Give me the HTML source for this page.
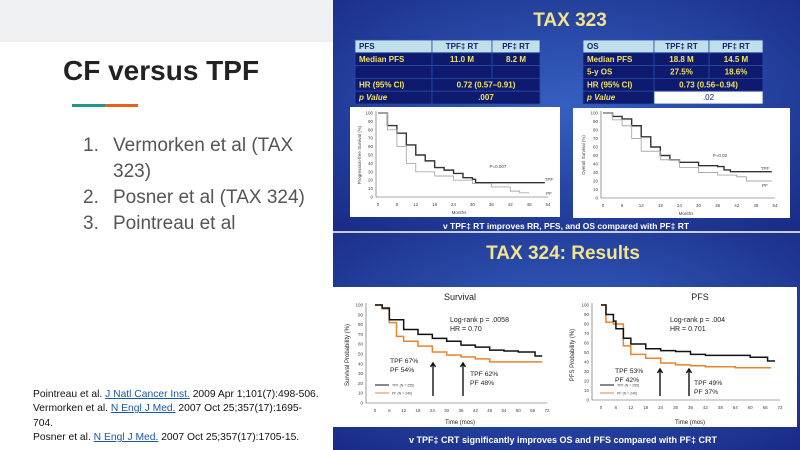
<!DOCTYPE html>
<html><head><meta charset="utf-8"><style>
body{margin:0;width:800px;height:450px;overflow:hidden;background:#fff;font-family:"Liberation Sans",sans-serif;position:relative}
.abs{position:absolute}
</style></head><body>
<div class="abs" style="left:0;top:0;width:333px;height:42px;background:#eef0f2"></div>
<div class="abs" style="left:63px;top:55px;font-size:28px;font-weight:bold;color:#222">CF versus TPF</div>
<div class="abs" style="left:72px;top:104px;width:33px;height:3px;background:#1f9a8a"></div>
<div class="abs" style="left:105px;top:104px;width:33px;height:3px;background:#e8601c"></div>
<div class="abs" style="left:83px;top:133px;font-size:19px;color:#555;line-height:26px">
<div><span style="display:inline-block;width:30px">1.</span>Vermorken et al (TAX</div>
<div style="padding-left:30px">323)</div>
<div><span style="display:inline-block;width:30px">2.</span>Posner et al (TAX 324)</div>
<div><span style="display:inline-block;width:30px">3.</span>Pointreau et al</div>
</div>
<div class="abs" style="left:33px;top:388px;font-size:10.3px;color:#111;line-height:14.3px;width:300px;white-space:nowrap">
<div>Pointreau et al. <span style="color:#1a56b0;text-decoration:underline">J Natl Cancer Inst.</span> 2009 Apr 1;101(7):498-506.</div>
<div>Vermorken et al. <span style="color:#1a56b0;text-decoration:underline">N Engl J Med.</span> 2007 Oct 25;357(17):1695-<br>704.</div>
<div>Posner et al. <span style="color:#1a56b0;text-decoration:underline">N Engl J Med.</span> 2007 Oct 25;357(17):1705-15.</div>
</div>

<svg class="abs" style="left:0;top:0" width="800" height="450">
<defs>
<radialGradient id="bg" cx="0.5" cy="0.45" r="0.75"><stop offset="0" stop-color="#3560c0"/><stop offset="1" stop-color="#182a85"/></radialGradient>
</defs>
<rect x="333" y="0" width="467" height="232" fill="url(#bg)"/>
<rect x="333" y="232" width="467" height="218" fill="url(#bg)"/>
<line x1="333" y1="232" x2="800" y2="232" stroke="#fff" stroke-width="1.5"/>
<text x="570" y="26" fill="#f3e38a" font-size="19" font-weight="bold" text-anchor="middle">TAX 323</text>
<g id="tables" font-size="8" font-weight="bold"></g>
<rect x="350" y="107" width="210" height="110" fill="#fff"/>
<rect x="573" y="108" width="217" height="110" fill="#fff"/>
<g id="c323"></g>
<text x="566" y="229" fill="#fff" font-size="8.5" font-weight="bold" text-anchor="middle">v   TPF‡   RT improves RR, PFS, and OS  compared with PF‡   RT</text>
<text x="563" y="259" fill="#f3e38a" font-size="19" font-weight="bold" text-anchor="middle">TAX 324: Results</text>
<rect x="333" y="287" width="464" height="140" fill="#fff"/>
<g id="c324"></g>
<text x="563" y="443" fill="#fff" font-size="9" font-weight="bold" text-anchor="middle">v  TPF‡  CRT significantly improves OS and PFS compared with PF‡  CRT</text>
</svg>
<script>
// TAX 323 PFS
const pfs323Months=[0,3,6,9,12,15,18,21,24,27,30,31,36,42,48,53];
const pfs323TPF=[100,85,76,62,50,43,35,32,28,23,21,17,17,17,17,17];
const pfs323PFm=[0,3,6,9,12,18,24,30,36,42,45,48];
const pfs323PF=[100,80,60,40,30,25,20,16,12,7,5,5];
// TAX 323 OS
const os323Months=[0,3,6,9,12,15,18,21,24,30,36,38,40,48,53];
const os323TPF=[100,96,93,85,72,60,50,45,42,38,37,33,31,31,31];
const os323PFm=[0,3,6,9,12,18,24,30,36,42,45,53];
const os323PF=[100,92,85,70,55,45,36,30,27,25,20,20];
// TAX 324 survival
const os324TPFm=[0,3,6,12,18,24,30,36,42,48,54,60,66,67,70];
const os324TPF=[100,97,85,75,70,66,63,59,57,54,53,52,52,48,48];
const os324PFm=[0,3,6,9,12,18,24,30,36,42,48,60,70];
const os324PF=[100,96,82,68,63,58,52,49,47,45,42,42,42];
// TAX 324 PFS
const pfs324TPFm=[0,2,5,6,9,12,18,24,30,36,42,54,60,66,67,70];
const pfs324TPF=[100,90,83,75,65,59,54,52,51,48,47,47,45,45,41,41];
const pfs324PFm=[0,2,5,9,12,18,24,30,36,42,54,68];
const pfs324PF=[100,82,80,57,48,44,39,37,36,35,34,33];
const ticks323=[0,6,12,18,24,30,36,42,48,54];
const ticks324=[0,6,12,18,24,30,36,42,48,54,60,66,72];
const yTicks=[0,10,20,30,40,50,60,70,80,90,100];

const NS='http://www.w3.org/2000/svg';
function mk(p,tag,at,txt){const e=document.createElementNS(NS,tag);for(const k in at)e.setAttribute(k,at[k]);if(txt!==undefined)e.textContent=txt;p.appendChild(e);return e;}
function chart(g,o){
  const sx=m=>o.x0+(m/o.xmax)*(o.x1-o.x0), sy=v=>o.y0-(v/100)*(o.y0-o.y1);
  const ax=mk(g,'path',{d:`M${o.ax},${o.y1-2}V${o.y0}H${o.x1}`,stroke:'#555','stroke-width':0.6,fill:'none'});
  
  
  o.xt.forEach(t=>{const e=mk(g,'text',{x:sx(t),y:o.y0+9,'font-size':4.5,fill:'#444','text-anchor':'middle'},t);
    
    });
  yTicks.forEach(t=>{const e=mk(g,'text',{x:o.ax-3,y:sy(t)+1.5,'font-size':4.5,fill:'#444','text-anchor':'end'},t);
    
    });
  o.series.forEach(s=>{let d='';s.m.forEach((m,i)=>{d+=(i?`H${sx(m)}V${sy(s.v[i])}`:`M${sx(m)},${sy(s.v[i])}`);});
    const p=mk(g,'path',{d,stroke:s.c,'stroke-width':s.w,fill:'none'});
    
    });
  return {sx,sy};
}
const c323=document.getElementById('c323');
chart(c323,{name:'pfs323',x0:378,x1:548,ax:376,xmax:54,y0:197,y1:113,xt:ticks323,series:[{n:'tpf',m:pfs323Months,v:pfs323TPF,c:'#333',w:1.4},{n:'pf',m:pfs323PFm,v:pfs323PF,c:'#aaa',w:0.9}]});
chart(c323,{name:'os323',x0:603,x1:775,ax:601,xmax:54,y0:198,y1:113,xt:ticks323,series:[{n:'tpf',m:os323Months,v:os323TPF,c:'#333',w:1.4},{n:'pf',m:os323PFm,v:os323PF,c:'#aaa',w:0.9}]});
[[459,214,'Months'],[686,215,'Months'],[498,168,'P=0.007'],[720,157,'P=0.02'],[549,181,'TPF'],[549,195,'PF'],[765,170,'TPF'],[765,187,'PF']].forEach(a=>{const e=mk(c323,'text',{x:a[0],y:a[1],'font-size':4.5,fill:'#444','text-anchor':'middle'},a[2]);
  
  });
[[361,155,'Progression-free Survival (%)'],[585,155,'Overall Survival (%)']].forEach(a=>{const e=mk(c323,'text',{x:a[0],y:a[1],'font-size':4.5,fill:'#444','text-anchor':'middle',transform:`rotate(-90 ${a[0]} ${a[1]})`},a[2]);
  
  });

const c324=document.getElementById('c324');
chart(c324,{name:'os324',x0:375,x1:547,ax:366,xmax:72,y0:403,y1:305,xt:ticks324,series:[{n:'pf',m:os324PFm,v:os324PF,c:'#e8842c',w:1.5},{n:'tpf',m:os324TPFm,v:os324TPF,c:'#111',w:1.5}]});
chart(c324,{name:'pfs324',x0:601,x1:780,ax:592,xmax:72,y0:400,y1:305,xt:ticks324,series:[{n:'pf',m:pfs324PFm,v:pfs324PF,c:'#e8842c',w:1.5},{n:'tpf',m:pfs324TPFm,v:pfs324TPF,c:'#111',w:1.5}]});
const t324=[[460,300,9,'Survival','middle'],[700,300,9,'PFS','middle'],[450,322,7,'Log-rank p = .0058','start'],[450,331,7,'HR = 0.70','start'],[670,322,7,'Log-rank p = .004','start'],[670,331,7,'HR = 0.701','start'],
[390,363,6.8,'TPF 67%','start'],[390,372,6.8,'PF 54%','start'],[470,376,6.8,'TPF 62%','start'],[470,385,6.8,'PF 48%','start'],
[615,373,6.8,'TPF 53%','start'],[615,382,6.8,'PF 42%','start'],[694,385,6.8,'TPF 49%','start'],[694,394,6.8,'PF 37%','start'],
[460,424,6,'Time (mos)','middle'],[690,424,6,'Time (mos)','middle']];
t324.forEach(a=>{const e=mk(c324,'text',{x:a[0],y:a[1],'font-size':a[2],fill:'#222','text-anchor':a[4]},a[3]);
  
  });
[[349,355,'Survival Probability (%)'],[574,355,'PFS Probability (%)']].forEach(a=>{const e=mk(c324,'text',{x:a[0],y:a[1],'font-size':6,fill:'#222','text-anchor':'middle',transform:`rotate(-90 ${a[0]} ${a[1]})`},a[2]);
  
  });
[[433,396,363],[463,396,363],[660,396,369],[689,396,369]].forEach(a=>{const e=mk(c324,'path',{d:`M${a[0]},${a[1]}V${a[2]}M${a[0]-2.5},${a[2]+4}L${a[0]},${a[2]}L${a[0]+2.5},${a[2]+4}`,stroke:'#111','stroke-width':1.4,fill:'none'});
  
  });
[[375,385,'#111','TPF (N = 255)'],[375,393,'#e8842c','PF (N = 246)'],[600,385,'#111','TPF (N = 255)'],[600,393,'#e8842c','PF (N = 246)']].forEach(a=>{
  const l=mk(c324,'line',{x1:a[0],x2:a[0]+14,y1:a[1],y2:a[1],stroke:a[2],'stroke-width':1});
  
  
  const t=mk(c324,'text',{x:a[0]+17,y:a[1]+1.5,'font-size':3.5,fill:'#444'},a[3]);
  
  });

// tables
const tg=document.getElementById('tables');
function table(x,cols,rows,name){
  const rh=12.8;let y=40;
  rows.forEach((r,ri)=>{let cx=x;
    cols.forEach((w,ci)=>{
      if(r[ci]===null){cx+=w;return;}
      let span=w; if(r.span&&ci===1) span=cols[1]+cols[2];
      const white=r.white&&ci===1;
      const fill=ri===0?'#bfe0ea':(white?'#fff':'#0d1a6e');
      const re=mk(tg,'rect',{x:cx,y,width:span,height:rh,fill,stroke:'#2a4aa8','stroke-width':0.8});
      
      
      const col=ri===0||white?'#12206a':'#f5e15a';
      const t=mk(tg,'text',{x:ci===0?cx+4:cx+span/2,y:y+9,fill:col,'text-anchor':ci===0?'start':'middle','font-style':r.it&&ci===0?'italic':'normal','font-weight':white?'normal':'bold'},r[ci]);
      
      
      cx+=w; if(r.span&&ci===1){cx+=cols[2];}
    });
    y+=rh;});
}
const r1=[['PFS','TPF‡ RT','PF‡ RT'],['Median PFS','11.0 M','8.2 M'],['','',''],['HR (95% CI)','0.72 (0.57–0.91)',null],['p Value','.007',null]];
r1[3].span=true;r1[4].span=true;r1[4].it=true;
table(355,[77,60,48],r1,'pfs-table');
const r2=[['OS','TPF‡ RT','PF‡ RT'],['Median PFS','18.8 M','14.5 M'],['5-y OS','27.5%','18.6%'],['HR (95% CI)','0.73 (0.56–0.94)',null],['p Value','.02',null]];
r2[3].span=true;r2[4].span=true;r2[4].it=true;r2[4].white=true;
table(583,[71,55,54],r2,'os-table');
</script>
</body></html>
